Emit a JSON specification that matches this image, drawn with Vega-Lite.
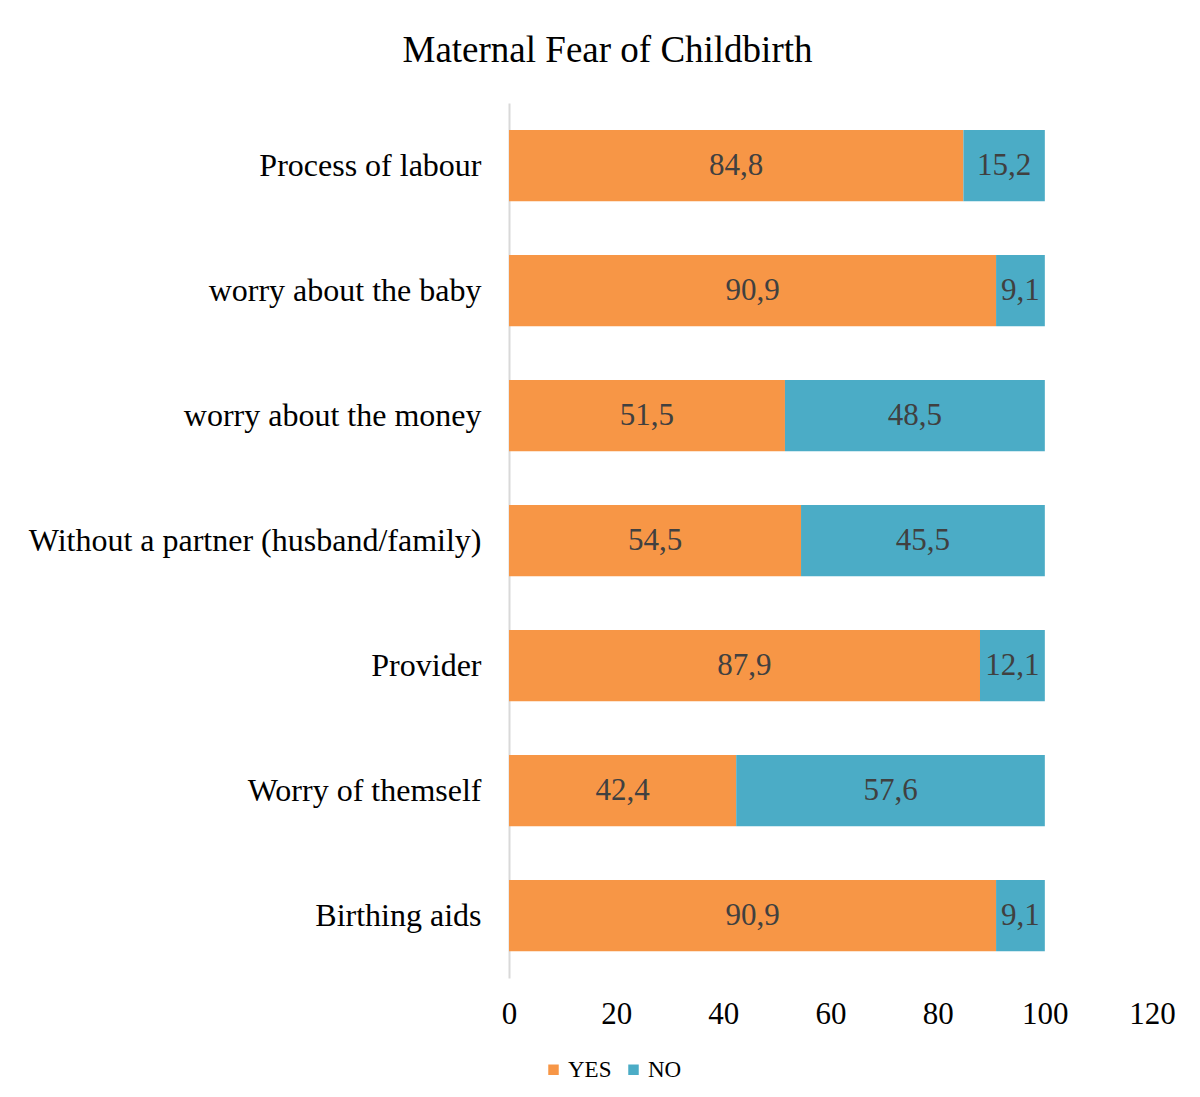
{
  "$schema": "https://vega.github.io/schema/vega-lite/v6.json",
  "width": 643,
  "height": 875,
  "autosize": "none",
  "padding": {"left": 509, "top": 103, "right": 48, "bottom": 119},
  "background": "white",
  "config": {"view": {"stroke": null}, "font": "Liberation Serif"},
  "title": {"text": "Maternal Fear of Childbirth", "fontSize": 37, "font": "Liberation Serif", "fontWeight": "normal", "color": "#000000", "anchor": "middle", "dx": -223, "offset": 33},
  "data": {"values": [
    {"category": "Process of labour", "answer": "YES", "value": 84.8, "label": "84,8", "ord": 0},
    {"category": "Process of labour", "answer": "NO", "value": 15.2, "label": "15,2", "ord": 1},
    {"category": "worry about the baby", "answer": "YES", "value": 90.9, "label": "90,9", "ord": 0},
    {"category": "worry about the baby", "answer": "NO", "value": 9.1, "label": "9,1", "ord": 1},
    {"category": "worry about the money", "answer": "YES", "value": 51.5, "label": "51,5", "ord": 0},
    {"category": "worry about the money", "answer": "NO", "value": 48.5, "label": "48,5", "ord": 1},
    {"category": "Without a partner (husband/family)", "answer": "YES", "value": 54.5, "label": "54,5", "ord": 0},
    {"category": "Without a partner (husband/family)", "answer": "NO", "value": 45.5, "label": "45,5", "ord": 1},
    {"category": "Provider", "answer": "YES", "value": 87.9, "label": "87,9", "ord": 0},
    {"category": "Provider", "answer": "NO", "value": 12.1, "label": "12,1", "ord": 1},
    {"category": "Worry of themself", "answer": "YES", "value": 42.4, "label": "42,4", "ord": 0},
    {"category": "Worry of themself", "answer": "NO", "value": 57.6, "label": "57,6", "ord": 1},
    {"category": "Birthing aids", "answer": "YES", "value": 90.9, "label": "90,9", "ord": 0},
    {"category": "Birthing aids", "answer": "NO", "value": 9.1, "label": "9,1", "ord": 1}
  ]},
  "transform": [
    {"stack": "value", "groupby": ["category"], "sort": [{"field": "ord"}], "as": ["v0", "v1"]},
    {"calculate": "(datum.v0 + datum.v1) / 2", "as": "mid"}
  ],
  "encoding": {
    "y": {"field": "category", "type": "nominal",
      "sort": ["Process of labour", "worry about the baby", "worry about the money", "Without a partner (husband/family)", "Provider", "Worry of themself", "Birthing aids"],
      "scale": {"paddingInner": 0.43, "paddingOuter": 0.215},
      "axis": {"title": null, "ticks": false, "domainColor": "#d9d9d9", "domainWidth": 2, "labelFontSize": 32, "labelFont": "Liberation Serif", "labelColor": "#000000", "labelPadding": 28, "labelLimit": 600}}
  },
  "layer": [
    {
      "mark": {"type": "bar"},
      "encoding": {
        "x": {"field": "v0", "type": "quantitative", "scale": {"domain": [0, 120]},
          "axis": {"title": null, "values": [0, 20, 40, 60, 80, 100, 120], "grid": false, "domain": false, "ticks": false, "labelFontSize": 31, "labelFont": "Liberation Serif", "labelColor": "#000000", "labelPadding": 21, "labelFlush": false}},
        "x2": {"field": "v1"},
        "color": {"field": "answer", "type": "nominal",
          "scale": {"domain": ["YES", "NO"], "range": ["#F79646", "#4BACC6"]},
          "legend": {"title": null, "orient": "none", "legendX": 33, "legendY": 955, "direction": "horizontal", "symbolType": "square", "symbolSize": 110, "symbolStrokeWidth": 0, "labelFontSize": 23, "labelFont": "Liberation Serif", "labelColor": "#000000", "labelOffset": 3, "columnPadding": 10}}
      }
    },
    {
      "mark": {"type": "text", "fontSize": 31, "font": "Liberation Serif", "color": "#404040"},
      "encoding": {
        "x": {"field": "mid", "type": "quantitative"},
        "text": {"field": "label"}
      }
    }
  ]
}
